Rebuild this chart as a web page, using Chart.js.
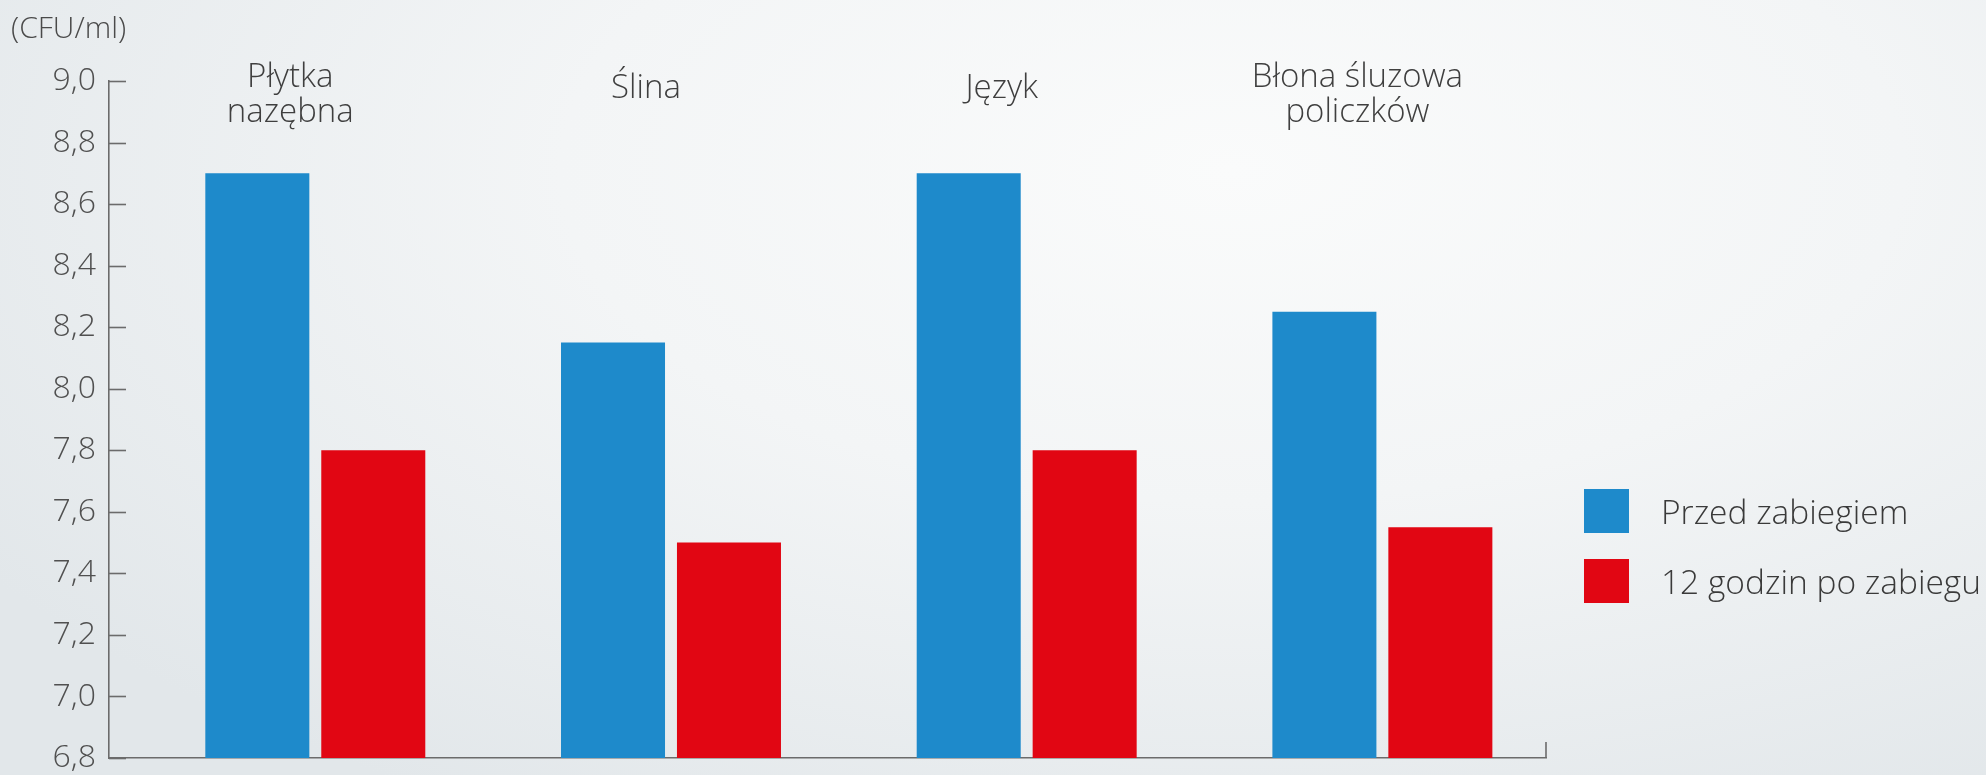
<!DOCTYPE html>
<html lang="pl">
<head>
<meta charset="utf-8">
<title>CFU/ml</title>
<script src="https://cdn.jsdelivr.net/npm/chart.js@4"></script>
<style>
  html, body { margin: 0; padding: 0; }
  body {
    width: 1986px; height: 775px; overflow: hidden; position: relative;
    background: radial-gradient(ellipse 75% 95% at 62% 22%, #fafbfb 0%, #f3f5f6 45%, #e2e7ea 100%);
    font-family: "Open Sans", sans-serif; font-weight: 300;
  }
  #wrap { position: absolute; left: 0; top: 0; width: 1986px; height: 775px; }
  #unit { position: absolute; left: 11px; top: 6px; font-size: 30px; color: #4a4a4a; }
  .leg { position: absolute; left: 1584px; display: flex; align-items: center; }
  .leg span.box { display: inline-block; width: 45px; height: 44px; }
  .leg span.txt { position: absolute; left: 77px; white-space: nowrap; font-size: 33.5px; color: #3a3a3a; }
</style>
</head>
<body>
<div id="wrap"><canvas id="chart" width="1986" height="775"></canvas></div>
<div id="unit">(CFU/ml)</div>
<div id="legend"></div>
<script>
// data
const categories = [["Płytka", "nazębna"], ["Ślina"], ["Język"], ["Błona śluzowa", "policzków"]];
const seriesNames = ["Przed zabiegiem", "12 godzin po zabiegu"];
const beforeValues = [8.70, 8.15, 8.70, 8.25];
const afterValues = [7.80, 7.50, 7.80, 7.55];
const yTicks = [6.8, 7.0, 7.2, 7.4, 7.6, 7.8, 8.0, 8.2, 8.4, 8.6, 8.8, 9.0];
const colors = ["#1e8acb", "#e10613"];

const axisColor = "#6b6b6b";
const fontFamily = "'Open Sans', sans-serif";

// legend (html)
const legend = document.getElementById("legend");
[489, 559].forEach((top, i) => {
    const d = document.createElement("div");
    d.className = "leg";
    d.style.top = top + "px";
    d.innerHTML = '<span class="box" style="background:' + colors[i] + '"></span><span class="txt">' + seriesNames[i] + '</span>';
    legend.appendChild(d);
});

// inner ticks on y axis, end tick on x axis, category titles
const decor = {
    id: "decor",
    afterDraw(chart) {
        const ctx = chart.ctx;
        const y = chart.scales.y;
        const x = chart.scales.x;
        const area = chart.chartArea;
        ctx.save();
        ctx.strokeStyle = axisColor;
        ctx.lineWidth = 1.6;
        yTicks.forEach(v => {
            const py = Math.round(y.getPixelForValue(v)) + 0.5;
            ctx.beginPath();
            ctx.moveTo(area.left, py);
            ctx.lineTo(area.left + 17, py);
            ctx.stroke();
        });
        ctx.beginPath();
        ctx.moveTo(area.right, area.bottom);
        ctx.lineTo(area.right, area.bottom - 16);
        ctx.stroke();

        ctx.fillStyle = "#3f3f3f";
        ctx.font = "300 33px " + fontFamily;
        ctx.textAlign = "center";
        ctx.textBaseline = "alphabetic";
        categories.forEach((lines, i) => {
            const cx = x.getPixelForValue(i) - 25;
            const y0 = lines.length > 1 ? 87 : 98;
            lines.forEach((t, j) => ctx.fillText(t, cx, y0 + j * 35));
        });
        ctx.restore();
    }
};

new Chart(document.getElementById("chart"), {
    type: "bar",
    data: {
        datasets: [
            {
                label: seriesNames[0],
                data: beforeValues.map((v, i) => ({ x: i, y: v })),
                backgroundColor: colors[0]
            },
            {
                label: seriesNames[1],
                data: afterValues.map((v, i) => ({ x: i, y: v })),
                backgroundColor: colors[1]
            }
        ]
    },
    options: {
        responsive: false,
        animation: false,
        devicePixelRatio: 1,
        categoryPercentage: 0.652,
        barPercentage: 0.897,
        layout: { padding: { top: 81, right: 440, bottom: 17, left: 0 } },
        plugins: { legend: { display: false }, tooltip: { enabled: false } },
        scales: {
            x: {
                type: "linear",
                min: -0.58,
                max: 3.46,
                offset: false,
                grid: { drawOnChartArea: false, drawTicks: false },
                border: { display: true, color: axisColor, width: 1.6 },
                afterBuildTicks(s) { s.ticks = categories.map((c, i) => ({ value: i })); },
                ticks: { display: false },
                afterFit(s) { s.height = 0; s.paddingLeft = 0; s.paddingRight = 0; }
            },
            y: {
                min: 6.8,
                max: 9.0,
                grid: { drawOnChartArea: false, drawTicks: false },
                border: { display: true, color: axisColor, width: 1.6 },
                afterBuildTicks(s) { s.ticks = yTicks.map(v => ({ value: v })); },
                ticks: {
                    padding: 13,
                    color: "#505050",
                    font: { family: fontFamily, size: 32, weight: "300" },
                    callback: v => v.toFixed(1).replace(".", ",")
                },
                afterFit(s) { s.width = 109; s.paddingTop = 0; s.paddingBottom = 0; }
            }
        }
    },
    plugins: [decor]
});
</script>
</body>
</html>
